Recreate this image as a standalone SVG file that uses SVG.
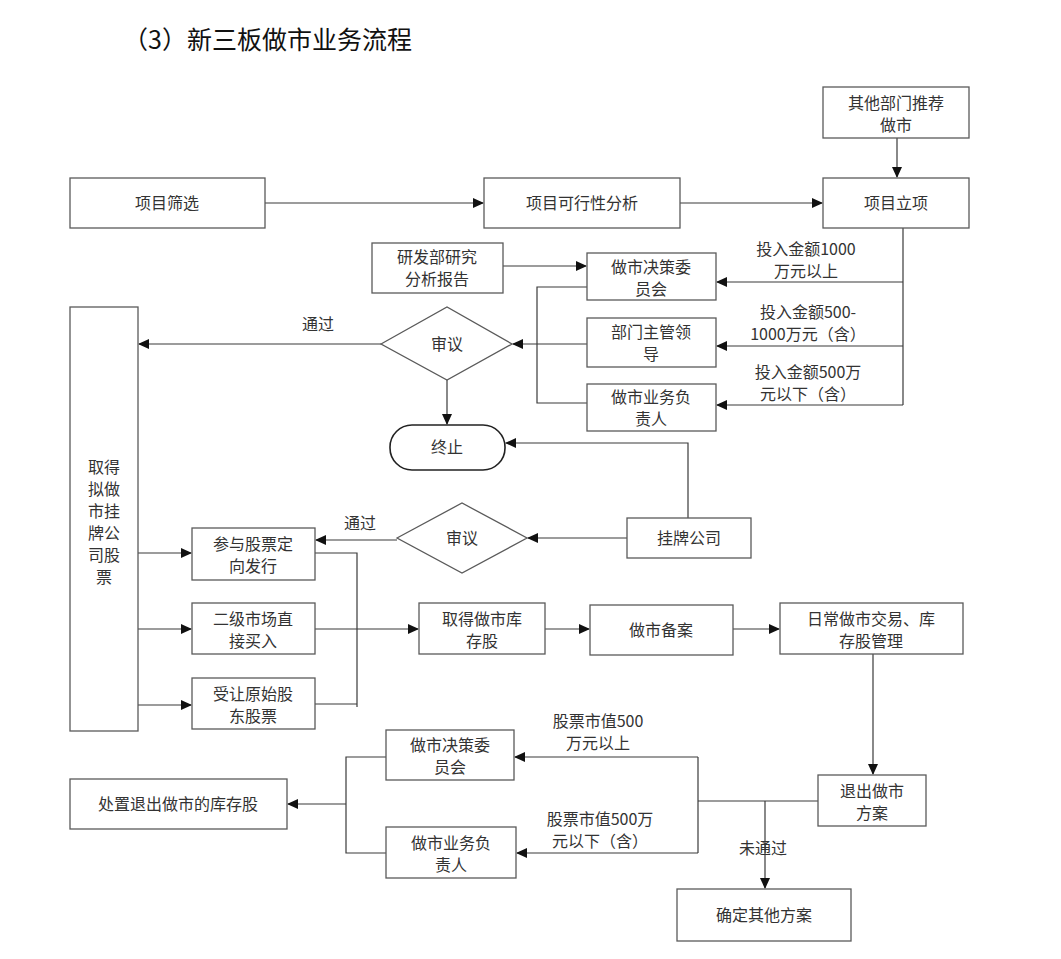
<svg xmlns="http://www.w3.org/2000/svg" width="1061" height="959" viewBox="0 0 1061 959">
<style>
.box{fill:#fff;stroke:#5a5a5a;stroke-width:1.3}
.ln{fill:none;stroke:#3a3a3a;stroke-width:1.2}
.t{font-family:"Noto Sans CJK SC","Noto Sans",sans-serif;font-size:16px;fill:#333;text-anchor:middle}
.l{font-family:"Noto Sans CJK SC","Noto Sans",sans-serif;font-size:16px;fill:#333;text-anchor:middle}
.title{font-family:"Noto Sans CJK SC",sans-serif;font-size:25px;fill:#111}
</style>
<defs>
<marker id="ah" markerWidth="11" markerHeight="10" refX="10" refY="5" orient="auto" markerUnits="userSpaceOnUse">
<path d="M0,0 L11,5 L0,10 Z" fill="#111"/>
</marker>
</defs>
<rect width="1061" height="959" fill="#fff"/>
<text class="title" x="123" y="49">（3）新三板做市业务流程</text>

<g id="connectors">
<line class="ln" x1="897" y1="138" x2="897" y2="177" marker-end="url(#ah)"/>
<line class="ln" x1="265" y1="203" x2="483" y2="203" marker-end="url(#ah)"/>
<line class="ln" x1="680" y1="203" x2="822" y2="203" marker-end="url(#ah)"/>
<line class="ln" x1="503" y1="266" x2="586" y2="266" marker-end="url(#ah)"/>
<polyline class="ln" points="903,228 903,405"/>
<line class="ln" x1="903" y1="282" x2="717" y2="282" marker-end="url(#ah)"/>
<line class="ln" x1="903" y1="346" x2="717" y2="346" marker-end="url(#ah)"/>
<line class="ln" x1="903" y1="405" x2="717" y2="405" marker-end="url(#ah)"/>
<polyline class="ln" points="587,287 537,287 537,403 587,403"/>
<line class="ln" x1="587" y1="344" x2="513" y2="344" marker-end="url(#ah)"/>
<line class="ln" x1="381" y1="344" x2="139" y2="344" marker-end="url(#ah)"/>
<line class="ln" x1="447" y1="380" x2="447" y2="424" marker-end="url(#ah)"/>
<polyline class="ln" points="688,518 688,443 506,443" marker-end="url(#ah)"/>
<line class="ln" x1="627" y1="538" x2="528" y2="538" marker-end="url(#ah)"/>
<line class="ln" x1="397" y1="540" x2="316" y2="540" marker-end="url(#ah)"/>
<line class="ln" x1="138" y1="553" x2="191" y2="553" marker-end="url(#ah)"/>
<line class="ln" x1="138" y1="629" x2="191" y2="629" marker-end="url(#ah)"/>
<line class="ln" x1="138" y1="705" x2="191" y2="705" marker-end="url(#ah)"/>
<polyline class="ln" points="315,553 357,553 357,707"/>
<line class="ln" x1="315" y1="704" x2="357" y2="704"/>
<line class="ln" x1="315" y1="629" x2="418" y2="629" marker-end="url(#ah)"/>
<line class="ln" x1="545" y1="629" x2="589" y2="629" marker-end="url(#ah)"/>
<line class="ln" x1="733" y1="629" x2="779" y2="629" marker-end="url(#ah)"/>
<line class="ln" x1="873" y1="654" x2="873" y2="774" marker-end="url(#ah)"/>
<line class="ln" x1="818" y1="801" x2="698" y2="801"/>
<polyline class="ln" points="698,757 698,853"/>
<line class="ln" x1="698" y1="757" x2="515" y2="757" marker-end="url(#ah)"/>
<line class="ln" x1="698" y1="853" x2="517" y2="853" marker-end="url(#ah)"/>
<line class="ln" x1="765" y1="801" x2="765" y2="888" marker-end="url(#ah)"/>
<polyline class="ln" points="386,757 346,757 346,853 386,853"/>
<line class="ln" x1="346" y1="804" x2="288" y2="804" marker-end="url(#ah)"/>
<text class="l" x="318" y="330">通过</text>
<text class="l" x="360" y="529">通过</text>
<text class="l" x="806" y="255">投入金额1000</text>
<text class="l" x="806" y="277">万元以上</text>
<text class="l" x="808" y="318">投入金额500-</text>
<text class="l" x="808" y="340">1000万元（含）</text>
<text class="l" x="808" y="378">投入金额500万</text>
<text class="l" x="808" y="400">元以下（含）</text>
<text class="l" x="598" y="727">股票市值500</text>
<text class="l" x="598" y="749">万元以上</text>
<text class="l" x="600" y="825">股票市值500万</text>
<text class="l" x="600" y="847">元以下（含）</text>
<text class="l" x="763" y="854">未通过</text>
</g>

<g id="n_qita"><rect class="box" x="823" y="87" width="146" height="51"/><text class="t" x="896" y="109">其他部门推荐</text><text class="t" x="896" y="131">做市</text></g>
<g id="n_shaixuan"><rect class="box" x="70" y="178" width="195" height="50"/><text class="t" x="167" y="209">项目筛选</text></g>
<g id="n_kexing"><rect class="box" x="484" y="178" width="196" height="50"/><text class="t" x="582" y="209">项目可行性分析</text></g>
<g id="n_lixiang"><rect class="box" x="823" y="178" width="146" height="50"/><text class="t" x="896" y="209">项目立项</text></g>
<g id="n_yanfa"><rect class="box" x="372" y="243" width="131" height="50"/><text class="t" x="437" y="263">研发部研究</text><text class="t" x="437" y="285">分析报告</text></g>
<g id="n_juece1"><rect class="box" x="587" y="253" width="129" height="47"/><text class="t" x="651" y="273">做市决策委</text><text class="t" x="651" y="295">员会</text></g>
<g id="n_zhuguan"><rect class="box" x="587" y="318" width="129" height="49"/><text class="t" x="651" y="338">部门主管领</text><text class="t" x="651" y="360">导</text></g>
<g id="n_fuze1"><rect class="box" x="587" y="384" width="129" height="47"/><text class="t" x="651" y="403">做市业务负</text><text class="t" x="651" y="425">责人</text></g>
<g id="n_shenyi1"><polygon class="box" points="381,344 447,307 512,344 447,380"/><text class="t" x="447" y="350">审议</text></g>
<g id="n_zhongzhi"><rect x="390" y="425" width="115" height="45" rx="22" ry="22" fill="#fff" stroke="#222" stroke-width="1.6"/><text class="t" x="447" y="453">终止</text></g>
<g id="n_guapai"><rect class="box" x="627" y="518" width="124" height="40"/><text class="t" x="689" y="544">挂牌公司</text></g>
<g id="n_shenyi2"><polygon class="box" points="397,538 462,503 527,538 462,573"/><text class="t" x="462" y="544">审议</text></g>
<g id="n_qude"><rect class="box" x="70" y="307" width="68" height="424"/>
<text class="t" x="104" y="473">取得</text><text class="t" x="104" y="495">拟做</text><text class="t" x="104" y="517">市挂</text><text class="t" x="104" y="539">牌公</text><text class="t" x="104" y="561">司股</text><text class="t" x="104" y="583">票</text></g>
<g id="n_canyu"><rect class="box" x="192" y="528" width="123" height="52"/><text class="t" x="253" y="550">参与股票定</text><text class="t" x="253" y="572">向发行</text></g>
<g id="n_erji"><rect class="box" x="192" y="603" width="123" height="51"/><text class="t" x="253" y="625">二级市场直</text><text class="t" x="253" y="647">接买入</text></g>
<g id="n_shourang"><rect class="box" x="192" y="678" width="123" height="51"/><text class="t" x="253" y="700">受让原始股</text><text class="t" x="253" y="722">东股票</text></g>
<g id="n_kucun"><rect class="box" x="419" y="603" width="126" height="51"/><text class="t" x="482" y="625">取得做市库</text><text class="t" x="482" y="647">存股</text></g>
<g id="n_beian"><rect class="box" x="590" y="605" width="143" height="50"/><text class="t" x="661" y="636">做市备案</text></g>
<g id="n_richang"><rect class="box" x="780" y="603" width="183" height="51"/><text class="t" x="871" y="625">日常做市交易、库</text><text class="t" x="871" y="647">存股管理</text></g>
<g id="n_tuichu"><rect class="box" x="818" y="775" width="108" height="51"/><text class="t" x="872" y="797">退出做市</text><text class="t" x="872" y="819">方案</text></g>
<g id="n_juece2"><rect class="box" x="386" y="730" width="128" height="50"/><text class="t" x="450" y="751">做市决策委</text><text class="t" x="450" y="773">员会</text></g>
<g id="n_fuze2"><rect class="box" x="386" y="827" width="130" height="51"/><text class="t" x="451" y="849">做市业务负</text><text class="t" x="451" y="871">责人</text></g>
<g id="n_chuzhi"><rect class="box" x="70" y="779" width="217" height="50"/><text class="t" x="178" y="810">处置退出做市的库存股</text></g>
<g id="n_queding"><rect class="box" x="677" y="889" width="174" height="52"/><text class="t" x="764" y="921">确定其他方案</text></g>
</svg>
